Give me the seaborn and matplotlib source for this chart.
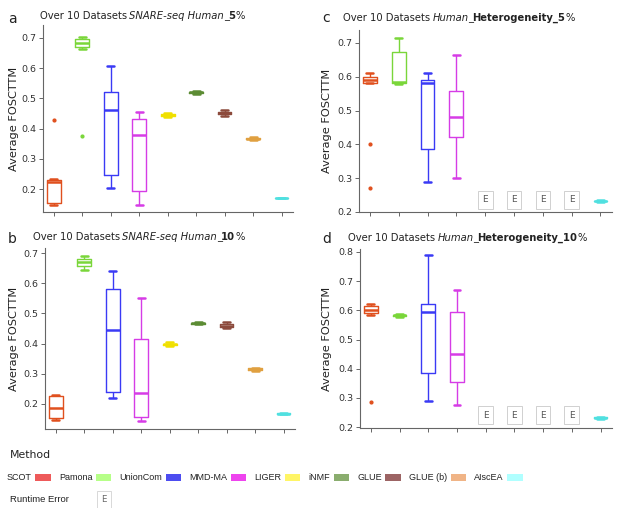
import matplotlib
matplotlib.use("Agg")
import pandas as pd
import seaborn as sns
import matplotlib.pyplot as plt
from matplotlib.patches import Patch

METHODS = ['SCOT', 'Pamona', 'UnionCom', 'MMD-MA', 'LIGER', 'iNMF', 'GLUE', 'GLUE (b)', 'AIscEA']
BOX_COLORS = ['#e0501e', '#7ad63a', '#3a3af5', '#d63ce6', '#f0e000', '#5c8c34', '#8c4a3c', '#e0a040', '#50e0e0']
LEGEND_COLORS = ['#ee5a5a', '#b6ff88', '#4d4df0', '#ee44ee', '#fff566', '#8aad6e', '#9c6464', '#f0b486', '#b0ffff']
ERROR_METHODS = ['LIGER', 'iNMF', 'GLUE', 'GLUE (b)']

# a: SNARE-seq Human 5%
snare_5 = {
    'SCOT': [0.148, 0.15, 0.152, 0.155, 0.222, 0.225, 0.228, 0.23, 0.232, 0.43],
    'Pamona': [0.375, 0.665, 0.668, 0.672, 0.68, 0.688, 0.695, 0.698, 0.70, 0.702],
    'UnionCom': [0.205, 0.22, 0.245, 0.25, 0.44, 0.48, 0.51, 0.525, 0.56, 0.607],
    'MMD-MA': [0.148, 0.17, 0.19, 0.2, 0.37, 0.39, 0.42, 0.435, 0.445, 0.455],
    'LIGER': [0.438, 0.44, 0.442, 0.444, 0.445, 0.446, 0.447, 0.449, 0.45, 0.452],
    'iNMF': [0.515, 0.517, 0.518, 0.519, 0.52, 0.52, 0.521, 0.522, 0.523, 0.525],
    'GLUE': [0.443, 0.446, 0.448, 0.45, 0.452, 0.453, 0.455, 0.457, 0.459, 0.461],
    'GLUE (b)': [0.362, 0.364, 0.365, 0.366, 0.367, 0.367, 0.368, 0.369, 0.37, 0.372],
    'AIscEA': [0.169, 0.169, 0.17, 0.17, 0.17, 0.17, 0.171, 0.171, 0.171, 0.171],
}

# b: SNARE-seq Human 10%
snare_10 = {
    'SCOT': [0.148, 0.15, 0.152, 0.17, 0.188, 0.2, 0.225, 0.228, 0.23],
    'Pamona': [0.645, 0.652, 0.656, 0.66, 0.668, 0.672, 0.676, 0.68, 0.685, 0.69],
    'UnionCom': [0.22, 0.235, 0.24, 0.245, 0.42, 0.47, 0.57, 0.585, 0.6, 0.64],
    'MMD-MA': [0.143, 0.15, 0.155, 0.158, 0.22, 0.255, 0.4, 0.42, 0.45, 0.55],
    'LIGER': [0.393, 0.395, 0.396, 0.397, 0.398, 0.398, 0.399, 0.4, 0.402, 0.405],
    'iNMF': [0.464, 0.465, 0.466, 0.467, 0.468, 0.468, 0.469, 0.47, 0.471, 0.472],
    'GLUE': [0.452, 0.454, 0.455, 0.457, 0.459, 0.461, 0.463, 0.465, 0.468, 0.472],
    'GLUE (b)': [0.308, 0.31, 0.311, 0.313, 0.315, 0.315, 0.317, 0.318, 0.319, 0.32],
    'AIscEA': [0.167, 0.167, 0.168, 0.168, 0.168, 0.168, 0.169, 0.169, 0.169, 0.169],
}

# c: Human Heterogeneity 5%
hetero_5 = {
    'SCOT': [0.27, 0.40, 0.58, 0.582, 0.588, 0.592, 0.598, 0.60, 0.605, 0.61],
    'Pamona': [0.578, 0.58, 0.581, 0.582, 0.583, 0.585, 0.65, 0.68, 0.69, 0.715],
    'UnionCom': [0.29, 0.33, 0.38, 0.40, 0.575, 0.585, 0.588, 0.592, 0.60, 0.61],
    'MMD-MA': [0.30, 0.37, 0.415, 0.44, 0.47, 0.49, 0.55, 0.56, 0.60, 0.663],
    'AIscEA': [0.229, 0.23, 0.231, 0.232, 0.232, 0.232, 0.233, 0.233, 0.234, 0.235],
}

# d: Human Heterogeneity 10%
hetero_10 = {
    'SCOT': [0.285, 0.585, 0.59, 0.592, 0.598, 0.602, 0.61, 0.615, 0.618, 0.62],
    'Pamona': [0.577, 0.578, 0.579, 0.58, 0.582, 0.583, 0.584, 0.585, 0.587, 0.588],
    'UnionCom': [0.29, 0.33, 0.38, 0.40, 0.59, 0.60, 0.615, 0.625, 0.70, 0.788],
    'MMD-MA': [0.275, 0.32, 0.35, 0.37, 0.43, 0.47, 0.58, 0.60, 0.63, 0.668],
    'AIscEA': [0.228, 0.229, 0.23, 0.231, 0.232, 0.232, 0.233, 0.234, 0.235, 0.236],
}

W, H = 631, 508


def to_frame(data):
    rows = [(m, v) for m, vals in data.items() for v in vals]
    return pd.DataFrame(rows, columns=['Method', 'value'])


def title_pieces(ax, pieces, px, py):
    # title made of differently styled chunks, placed one after another
    prev = None
    for txt, style, weight in pieces:
        kw = dict(fontsize=7.2, fontstyle=style, fontweight=weight, color='#222')
        if prev is None:
            prev = fig.text(px / W, 1 - py / H, txt, ha='left', va='bottom', **kw)
        else:
            dx = 0 if txt in ('_', '%') and weight == 'normal' and style == 'normal' and prev.get_text() != '_' else -0.7
            prev = ax.annotate(txt, xy=(1, 0), xycoords=prev, xytext=(dx, 0), textcoords='offset points',
                               ha='left', va='bottom', **kw)


def draw_panel(ax, box, data, ylim, yticks, pieces, letter, title_xy, letter_xy, label_x, err_y=None):
    left, top, right, bottom = box
    df = to_frame(data)
    sns.boxplot(data=df, x='Method', y='value', hue='Method', order=METHODS, hue_order=METHODS,
                palette=dict(zip(METHODS, BOX_COLORS)), fill=False, width=0.48, linewidth=1.0,
                fliersize=2, legend=False, dodge=False, ax=ax,
                medianprops=dict(linewidth=1.8), capprops=dict(linewidth=1.8))
    for ln in ax.lines:
        if ln.get_marker() not in (None, 'None', ''):
            ln.set_markerfacecolor(ln.get_markeredgecolor())
    if err_y is not None:
        for m in ERROR_METHODS:
            ax.text(METHODS.index(m), err_y, 'E', ha='center', va='center', fontsize=6.5, color='#555',
                    bbox=dict(boxstyle='square,pad=0.5', fc='white', ec='#d0d0d0', lw=0.7))
    ax.set_xlim(-0.38, 8.4)
    ax.set_ylim(*ylim)
    ax.set_yticks(yticks)
    ax.set_yticklabels(['%.1f' % t for t in yticks])
    ax.set_xlabel('')
    ax.set_ylabel('Average FOSCTTM', fontsize=8.2, color='#222')
    ax.yaxis.set_label_coords((label_x + 5 - left) / (right - left), 0.5)
    ax.tick_params(axis='x', length=3, labelbottom=False, color='#666', width=0.7)
    ax.tick_params(axis='y', length=3, pad=2, labelsize=6.8, labelcolor='#333', color='#666', width=0.7)
    for s in ['left', 'bottom']:
        ax.spines[s].set_color('#666')
        ax.spines[s].set_linewidth(0.8)
    sns.despine(ax=ax)
    title_pieces(ax, pieces, *title_xy)
    fig.text(letter_xy[0] / W, 1 - letter_xy[1] / H, letter, fontsize=10, color='#222',
             ha='center', va='baseline')


sns.set_style('ticks')
plt.rcParams['font.family'] = ['DejaVu Sans']

fig = plt.figure(figsize=(6.31, 5.08), dpi=100)


def add_ax(box):
    left, top, right, bottom = box
    return fig.add_axes([left / W, 1 - bottom / H, (right - left) / W, (bottom - top) / H])


box_a = (43, 25, 293, 212)
box_b = (45, 248, 295, 429)
box_c = (359, 30, 612, 212)
box_d = (360, 249, 612, 428)

draw_panel(add_ax(box_a), box_a, snare_5, (0.124, 0.743), [0.2, 0.3, 0.4, 0.5, 0.6, 0.7],
           [('Over 10 Datasets ', 'normal', 'normal'), ('SNARE-seq Human', 'italic', 'normal'),
            ('_', 'normal', 'normal'), ('5', 'normal', 'bold'), ('%', 'normal', 'normal')],
           'a', (40, 21), (12, 23), 14)
draw_panel(add_ax(box_b), box_b, snare_10, (0.117, 0.717), [0.2, 0.3, 0.4, 0.5, 0.6, 0.7],
           [('Over 10 Datasets ', 'normal', 'normal'), ('SNARE-seq Human', 'italic', 'normal'),
            ('_', 'normal', 'normal'), ('10', 'normal', 'bold'), ('%', 'normal', 'normal')],
           'b', (33, 242), (12, 243), 14)
draw_panel(add_ax(box_c), box_c, hetero_5, (0.2, 0.738), [0.2, 0.3, 0.4, 0.5, 0.6, 0.7],
           [('Over 10 Datasets ', 'normal', 'normal'), ('Human', 'italic', 'normal'),
            ('_', 'normal', 'normal'), ('Heterogeneity_5', 'normal', 'bold'), ('%', 'normal', 'normal')],
           'c', (343, 23), (326, 22), 327, err_y=0.236)
draw_panel(add_ax(box_d), box_d, hetero_10, (0.197, 0.81), [0.2, 0.3, 0.4, 0.5, 0.6, 0.7, 0.8],
           [('Over 10 Datasets ', 'normal', 'normal'), ('Human', 'italic', 'normal'),
            ('_', 'normal', 'normal'), ('Heterogeneity_10', 'normal', 'bold'), ('%', 'normal', 'normal')],
           'd', (348, 243), (327, 243), 327, err_y=0.241)

# legend
fig.text(10 / W, 1 - 455 / H, 'Method', fontsize=7.8, color='#222', ha='left', va='center')
handles = [Patch(facecolor=c, edgecolor='none') for c in LEGEND_COLORS]
fig.legend(handles, METHODS, loc='center left', bbox_to_anchor=(7 / W, 1 - 478 / H), ncol=9,
           frameon=False, markerfirst=False, handlelength=1.7, handleheight=0.9,
           handletextpad=0.4, columnspacing=0.9, borderpad=0, borderaxespad=0, labelcolor='#222',
           prop={'family': 'Liberation Sans', 'size': 6.5})
fig.text(10 / W, 1 - 500 / H, 'Runtime Error', fontsize=6.8, family='Liberation Sans',
         color='#222', ha='left', va='center')
fig.text(104 / W, 1 - 500 / H, 'E', fontsize=6.2, color='#666', ha='center', va='center',
         bbox=dict(boxstyle='square,pad=0.5', fc='white', ec='#d8d8d8', lw=0.7))

fig.savefig('out.png', dpi=100)
